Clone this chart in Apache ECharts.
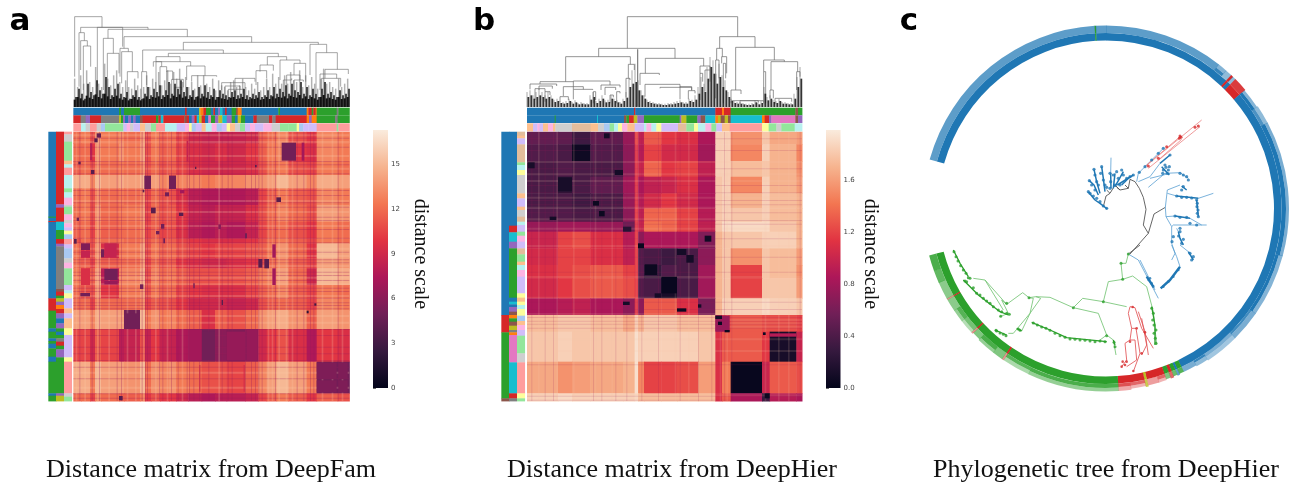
<!DOCTYPE html>
<html><head><meta charset="utf-8">
<style>html,body{margin:0;padding:0;background:#fff}#chart{width:1296px;height:485px;filter:blur(0.6px)}</style>
<script src="https://cdn.jsdelivr.net/npm/echarts@6/dist/echarts.min.js"></script>
</head><body><div id="chart"></div>
<script>
// ---------- colour tables ----------
const rocketStops=[[0,'#03051a'],[.143,'#35193e'],[.286,'#701f57'],[.429,'#ad1759'],[.571,'#e13342'],[.714,'#f37651'],[.857,'#f6b48f'],[1,'#faebdd']];
const K={b:'#1f77b4',r:'#d62728',g:'#2ca02c',o:'#ff7f0e',p:'#9467bd',n:'#8c564b',k:'#e377c2',y:'#7f7f7f',l:'#bcbd22',c:'#17becf',
 Lb:'#a9c9f2',Lo:'#fdc08e',Lg:'#93e69b',Lr:'#ff9d9d',Lp:'#d1bdfa',Ln:'#e3bd9c',Lk:'#fdb4e2',Ly:'#cfcfcf',Ll:'#fdfd9c',Lc:'#b8f1ef'};

// ---------- panel a : distance matrix DeepFam ----------
const aMax=17.3, aTicks=[0,3,6,9,12,15];
const aColEdges=[85,108,135,150,168,222,237,285,300,318,345,372,393,430,470,510,545,600,640,665,695,730,785,815,878,913];
const aRowEdges=[80,115,170,210,250,300,350,400,415,460,490,540,580,615,672,770,865,888];
const aValues=[
[12,12.5,11,13.5,12.5,13,12,13.5,11,12.5,11.5,12,10.5,9,8.5,8.5,8.5,9,11.5,12,13,11,10,13,12.5],
[12,12,10,13.5,12.5,13.5,12.5,14,11,12.5,11.5,12,10.5,9.5,9,9.5,9,10,11.5,12.5,13,10,9.5,13,12.5],
[11.5,12,11,13,12,12.5,12,13,11,12,11,11.5,10.5,9.5,9,9,9,9.5,11,12,12.5,11,10.5,12.5,12],
[14.5,14.5,13,15,14,14.5,14,15,11.5,14,13,11,13,13,12.5,13,13,13.5,13.5,14,15,14,13,14.5,14],
[12,12.5,11,13,12,12.5,12,13,10.5,12,11,11,9.5,8,7.5,7.5,7.5,8,10.5,11.5,12.5,11.5,11,13,12.5],
[12,12.5,11,13.5,12,12.5,12.5,13.5,10.5,12,11,11.5,10,8.5,8,8.5,8.5,9.5,11,12,13,12,11,14,13.5],
[11.5,12,10.5,13,11.5,12,12,13,10.5,11.5,10.5,11,9.5,8,7.5,8,7.5,8.5,10.5,11.5,12,11,10,12.5,12],
[11,12,11,13,12,12.5,12,13,11,12,11,11.5,10.5,10,9.5,9.5,9.5,10,11,12,12.5,11.5,10.5,12.5,12],
[12,10,11,13.5,9.5,12.5,12.5,14,11,12.5,11.5,12,11,10.5,10,10.5,10.5,11,11.5,12.5,13.5,12,10,15,14],
[12,11.5,10.5,13,11.5,12,12,13.5,10.5,12,11,11.5,10,9.5,9,9,9.5,10,11,12,13,11.5,10.5,14,13.5],
[12.5,10,11.5,14,8,13,13,14.5,11,13,12,12.5,11.5,11,11,11,11,11.5,12.5,13,14,12,9,15,14.5],
[12,11,11,13.5,10,12.5,12.5,13.5,11,12.5,11.5,12,10.5,10,9.5,9.5,9.5,10.5,11.5,12,13,11.5,10.5,12.5,12],
[12,12,10.5,13,12,12,12,13,10.5,11.5,11,11,10,9,9,9,8.5,9,11,11.5,12,11.5,10.5,13,12.5],
[14,14,13,14.5,14,14,5,15,12.5,13.5,12.5,13,12,11.5,9.5,11.5,11,12,13.5,14,14.5,13.5,11.5,14,13.5],
[10.5,10.5,9,11.5,10.5,8,8.5,11,8.5,10,8.5,8.5,7.5,6.5,5,6,5.5,6,9,10,11,9.5,7.5,10,9.5],
[14.5,14.5,12.5,15,14,14,13.5,15,12,13.5,13,13.5,12.5,12,11,11,10.5,11.5,13,14,15,14,12.5,5,5],
[12,12,10.5,13,12,11.5,11.5,12.5,10,11,10,10,9,8,7.5,8,8,8.5,10.5,11.5,12.5,11.5,10,11.5,11]];
const aClusters=[[155,168,85,98,4.5],[148,158,100,112,4],[710,753,113,167,5],[770,778,113,167,7],[100,107,170,178,4],[138,148,195,207,4],
[298,318,212,252,5],[372,393,212,252,5],[293,298,254,262,4],[360,372,262,274,5],[405,418,255,265,7],[694,708,277,291,4],[318,332,308,325,4],[402,415,323,333,4],
[348,358,357,371,5],[95,102,338,348,5],[333,343,378,388,5],[87,95,402,416,4],[108,135,415,435,5.5],[108,135,437,458,8.5],[168,178,433,457,5],[178,215,415,458,8.5],
[640,652,462,488,4],[658,672,462,490,4],[682,692,418,458,7],[682,692,490,540,7],[178,218,492,525,5],[178,218,528,538,6.5],[108,135,490,540,9.5],[106,135,564,574,5],[285,295,538,552,5],
[237,285,625,672,5],[785,791,617,625,2],[808,814,595,602,3],[815,875,772,822,5.5],[815,875,826,863,5.5],[880,908,772,822,5.5],[880,908,826,863,5.5],[222,233,873,886,4],
[470,510,680,765,5],[430,470,675,765,7],[545,600,680,765,6.5],[605,638,675,765,6.5],[463,466,780,860,9],[596,599,780,860,9],[136,140,115,165,7],
[600,606,385,400,5],[520,528,358,372,6],[355,360,400,415,5],[445,449,535,550,5],[425,430,108,170,8.5],[530,534,585,600,4],[450,454,185,192,4],[630,635,180,187,4]];
const aRowDark=[98,125,168,178,205,255,270,292,305,335,345,372,398,412,440,463,472,500,510,525,548,558,578,592,600,610,672,690,725,745,765,785,820,865,878];
const aRowLight=[88,108,150,188,285,318,360,428,450,480,515,535,570,630,650,800,845];
const aColDark=[103,140,162,215,228,290,300,306,342,352,378,398,425,432,445,462,490,530,548,560,600,618,630,640,650,690,755,775,795,805,878];
const aColLight=[92,118,156,190,245,270,294,330,365,410,520,668,680,700,722,740,830,860,890];
const aTop=[
[[222,'b'],[228,'g'],[237,'b'],[285,'g'],[420,'b'],[425,'r'],[462,'b'],[466,'l'],[475,'o'],[483,'r'],[497,'g'],[505,'b'],[510,'r'],[520,'b'],[525,'p'],[532,'c'],[540,'b'],[545,'r'],[560,'b'],[573,'g'],[578,'n'],[590,'o'],[700,'b'],[705,'g'],[785,'b'],[790,'o'],[800,'r'],[805,'g'],[812,'r'],[815,'o'],[875,'g'],[880,'y'],[913,'g']],
[[107,'r'],[122,'y'],[135,'p'],[168,'r'],[222,'y'],[228,'l'],[234,'g'],[240,'p'],[250,'b'],[258,'p'],[265,'b'],[272,'p'],[285,'b'],[293,'n'],[333,'r'],[340,'g'],[347,'r'],[355,'c'],[418,'r'],[425,'n'],[432,'r'],[440,'b'],[448,'p'],[455,'r'],[462,'c'],[470,'l'],[480,'r'],[490,'b'],[498,'k'],[510,'g'],[520,'p'],[532,'l'],[545,'c'],[560,'p'],[570,'g'],[578,'b'],[588,'l'],[600,'g'],[625,'b'],[635,'r'],[672,'y'],[682,'r'],[692,'y'],[785,'r'],[792,'o'],[800,'p'],[815,'o'],[870,'g'],[878,'y'],[913,'g']],
[[108,'Lr'],[122,'Lc'],[135,'Ly'],[155,'Lr'],[168,'Ly'],[180,'Lb'],[235,'Lg'],[245,'Lp'],[255,'Lk'],[265,'Ly'],[285,'Lp'],[300,'Lo'],[318,'Ly'],[333,'Lg'],[360,'Lr'],[395,'Lc'],[420,'Lp'],[432,'Lk'],[440,'Ll'],[452,'Lb'],[470,'Lp'],[482,'Lo'],[500,'Lc'],[515,'Lk'],[530,'Lb'],[545,'Lp'],[555,'Ll'],[570,'Lo'],[585,'Ly'],[600,'Lg'],[615,'Lp'],[630,'Lk'],[655,'Lp'],[680,'Lk'],[705,'Ly'],[730,'Lg'],[755,'Lg'],[762,'Ll'],[775,'Lb'],[790,'Lp'],[815,'Lp'],[875,'Lr'],[880,'Lg'],[913,'Lr']]];
const aLeft=[
[[335,'b'],[338,'g'],[348,'b'],[351,'r'],[580,'b'],[617,'r'],[670,'g'],[680,'b'],[700,'g'],[708,'b'],[716,'g'],[730,'b'],[755,'g'],[770,'b'],[865,'g'],[872,'b'],[888,'g']],
[[298,'r'],[308,'p'],[350,'r'],[375,'c'],[402,'g'],[416,'r'],[424,'p'],[552,'y'],[560,'n'],[572,'r'],[580,'g'],[590,'l'],[600,'p'],[612,'o'],[625,'r'],[640,'p'],[655,'b'],[670,'p'],[680,'g'],[690,'b'],[700,'g'],[710,'y'],[722,'r'],[733,'g'],[757,'p'],[770,'g'],[865,'g'],[872,'p'],[888,'l']],
[[88,'Lr'],[110,'Ly'],[167,'Lg'],[178,'Lo'],[188,'Lc'],[210,'Lr'],[250,'Lc'],[262,'Lg'],[278,'Lc'],[300,'Lk'],[305,'Ly'],[328,'Lg'],[345,'Lk'],[355,'Ly'],[367,'Lk'],[377,'Lp'],[388,'Ll'],[402,'Lb'],[418,'Lr'],[430,'Lp'],[460,'Lb'],[473,'Ly'],[490,'Lk'],[540,'Lg'],[556,'Lp'],[565,'Lc'],[580,'Ll'],[610,'Lp'],[625,'Lo'],[640,'Lp'],[670,'Lo'],[690,'Ll'],[757,'Lp'],[770,'Ll'],[865,'Lr'],[875,'Ly'],[888,'Lg']]];
const aLinks=[[14,96,20,200,52],[32,234,52,68,58],[27,43,68,230,92],[32,52,92,180,108],[40,62,108,240,170],[82,158,52,230,110],[100,130,85,240,130],[112,147,130,260,190],[114,352,58,85,80],[162,545,80,115,97],[150,175,115,200,125],[155,187,125,220,185],[172,204,185,260,205],[340,745,97,120,103],[218,460,120,185,130],[295,625,130,140,140],[258,330,140,155,155],[250,362,155,170,168],[350,405,168,210,197],[365,440,197,215,200],[455,525,218,240,235],[592,650,140,165,150],[570,610,165,185,182],[558,590,182,225,205],[630,690,150,210,160],[672,707,160,195,215],[720,770,103,195,128],[738,802,128,250,178],[765,835,178,205,192],[750,800,192,240,205],[755,812,205,250,230],[258,275,155,270,170],[270,290,170,250,185],[290,308,183,250,210],[305,340,208,260,232],[315,335,232,280,240],[495,555,205,240,215],[465,510,228,270,240],[475,520,238,275,250],[640,665,210,260,205],[650,690,195,260,210],[672,700,210,260,215],[215,230,185,265,225]];
const aCanopyGrey=[85,60,95,70,110,75,60,120,70,60,130,85,65,95,110,75,60,80,60,55,85,65,55,60,95,60,85,75,105,65,80,110,70,105,85,115,75,90,60,75,55,95,65,95,70,60,85,50,80,65,60,50,75,80,60,65,85,60,50,70,55,75,50,60,85,60,100,70,90,70,95,70,105,80,75,110,60,95,65,90,70,55,85,115,70,75,60,55,85,60,70,85];
const aCanopyDark=[30,55,40,25,70,45,35,80,50,40,90,60,35,55,70,40,30,45,25,35,50,30,25,40,60,35,55,45,65,35,50,75,40,70,55,80,45,60,35,50,30,60,40,65,45,35,55,30,50,40,35,30,45,50,35,40,55,35,30,40,35,45,30,35,50,35,60,40,55,45,65,40,70,50,45,75,40,60,35,55,40,30,55,75,40,45,35,30,50,35,40,55];
const aCanopyBase=[22,30,26,20,34,28,24,38,30,26,40,32,24,30,34,26,22,28,20,24,30,22,20,26,32,24,30,28,32,24,30,36,26,34,30,38,28,32,24,30,22,32,26,32,28,24,30,22,30,26,24,22,28,30,24,26,30,24,22,26,24,28,22,24,30,24,32,26,30,28,32,26,34,30,28,36,26,32,24,30,26,22,30,36,26,28,24,22,30,24,26,30];

// ---------- panel b : distance matrix DeepHier ----------
const bMax=1.99, bTicks=[0,0.4,0.8,1.2,1.6];
const bColEdges=[87,180,222,277,375,410,420,438,490,537,600,652,672,698,792,815,895,912];
const bRowEdges=[80,118,168,215,265,310,350,380,430,480,520,580,630,680,770,865,888];
const bValues=[
[.5,.48,.33,.48,.75,1.2,.95,1.3,1.15,1.1,.85,1.85,1.85,1.55,1.8,1.65,1.6],
[.42,.38,.07,.42,.7,1.1,.9,1.2,1.05,1.05,.8,1.85,1.85,1.5,1.85,1.7,1.5],
[.38,.42,.38,.38,.7,1.1,1.0,1.35,1.15,1.2,.95,1.85,1.85,1.75,1.8,1.7,1.55],
[.38,.2,.38,.48,.8,1.1,.85,.95,1.0,1.1,.85,1.8,1.85,1.5,1.85,1.7,1.6],
[.38,.38,.33,.38,.75,1.1,.9,1.05,1.15,1.05,.85,1.8,1.85,1.7,1.85,1.75,1.7],
[.42,.42,.38,.38,.7,1.15,.95,1.35,1.35,1.2,.9,1.8,1.85,1.8,1.85,1.75,1.7],
[.75,.8,.8,.75,.55,1.1,1.0,1.4,1.35,1.2,.95,1.8,1.9,1.9,1.9,1.8,1.7],
[1.0,1.2,1.25,1.1,.9,1.15,.7,.85,.85,.85,.65,1.7,1.8,1.8,1.85,1.85,1.7],
[1.05,1.2,1.2,1.1,.95,1.15,.42,.38,.32,.38,.7,1.7,1.8,1.55,1.8,1.75,1.6],
[1.1,1.2,1.25,1.3,1.2,1.15,.45,.28,.42,.38,.8,1.7,1.8,1.2,1.8,1.75,1.55],
[1.05,1.15,1.25,1.3,1.25,1.15,.42,.38,.12,.38,.8,1.7,1.8,1.2,1.8,1.8,1.6],
[.85,.9,.95,.85,.7,1.1,.7,1.3,1.3,1.1,.6,1.7,1.85,1.85,1.9,1.85,1.8],
[1.75,1.8,1.8,1.75,1.65,1.85,1.7,1.8,1.8,1.75,1.75,.95,1.2,1.3,1.25,1.25,1.2],
[1.8,1.85,1.8,1.8,1.8,1.95,1.85,1.85,1.85,1.85,1.8,1.1,1.3,1.3,1.15,.12,1.0],
[1.65,1.55,1.6,1.65,1.7,1.95,1.5,1.2,1.2,1.25,1.6,1.1,1.45,.03,1.0,1.3,1.25],
[1.85,1.9,1.85,1.85,1.85,1.9,1.75,1.75,1.75,1.75,1.75,1.1,1.3,.85,.3,.9,.85]];
const bClusters=[[318,335,85,100,.1],[90,110,172,190,.12],[180,222,218,258,.12],[350,375,195,210,.1],[285,303,288,302,.05],[303,320,318,334,.05],[155,175,335,345,.1],[375,400,365,380,.2],[620,640,392,410,.08],[420,438,415,430,.03],[537,565,432,450,.1],[565,587,450,473,.1],[440,477,478,510,.05],[490,537,515,565,.03],[470,490,565,578,.1],[375,395,590,600,.1],[537,565,610,620,.05],[600,610,598,608,.1],[652,695,632,680,.75],[660,672,650,660,.05],[680,695,675,682,.05],[795,803,682,690,.05],[800,815,865,880,.05],[815,895,685,695,.9],[652,672,632,642,.1]];
const bRowDark=[100,135,190,240,262,285,298,322,345,356,400,455,500,590,612,636,647,656,668,778,872,884];
const bRowLight=[168,205,225,275,305,340,368,420,513,575,624,642,652,662,700,735,868];
const bColDark=[100,140,165,285,310,352,385,430,480,545,600,640,678,700,905];
const bColLight=[120,175,225,290,340,412,418,530,570,665,685,800,840,870];
const bTop=[
[[408,'b'],[412,'r'],[652,'b'],[672,'r'],[678,'o'],[698,'r'],[892,'g'],[900,'n'],[912,'g']],
[[170,'b'],[173,'g'],[297,'b'],[300,'c'],[378,'b'],[385,'n'],[393,'g'],[407,'r'],[418,'l'],[438,'p'],[545,'g'],[550,'p'],[565,'l'],[598,'g'],[608,'p'],[622,'n'],[652,'c'],[660,'o'],[668,'l'],[680,'n'],[690,'l'],[698,'n'],[792,'c'],[800,'o'],[813,'r'],[820,'p'],[892,'k'],[900,'n'],[912,'p']],
[[105,'Lo'],[118,'Lp'],[125,'Lk'],[135,'Lp'],[150,'Lo'],[165,'Lk'],[172,'Lo'],[222,'Ly'],[278,'Ln'],[300,'Lo'],[318,'Ly'],[335,'Lb'],[348,'Lg'],[360,'Lc'],[372,'Ll'],[388,'Lk'],[410,'Lo'],[438,'Lp'],[445,'Lc'],[460,'Lk'],[475,'Lc'],[490,'Ll'],[540,'Lp'],[565,'Ln'],[588,'Lg'],[600,'Ll'],[622,'Lc'],[640,'Lk'],[655,'Lg'],[672,'Lp'],[695,'Lo'],[792,'Lr'],[812,'Ll'],[835,'Lg'],[850,'Ly'],[890,'Lg'],[912,'Lc']]];
const bLeft=[
[[630,'b'],[682,'r'],[880,'g'],[888,'n']],
[[362,'b'],[382,'r'],[410,'c'],[430,'p'],[578,'g'],[590,'b'],[598,'c'],[606,'b'],[620,'p'],[630,'n'],[640,'o'],[650,'g'],[662,'n'],[675,'l'],[682,'y'],[690,'o'],[772,'k'],[865,'c'],[880,'r'],[888,'y']],
[[92,'Ln'],[100,'Lo'],[118,'Lp'],[172,'Ln'],[180,'Lg'],[195,'Lc'],[210,'Ll'],[265,'Ly'],[280,'Lo'],[305,'Lp'],[315,'Lo'],[335,'Ly'],[350,'Ln'],[360,'Lc'],[380,'Lp'],[392,'Lg'],[410,'Lk'],[430,'Lp'],[448,'Ln'],[470,'Lg'],[480,'Lo'],[495,'Lc'],[515,'Lk'],[565,'Lp'],[578,'Ll'],[590,'Lo'],[600,'Ll'],[612,'Lc'],[632,'Ll'],[648,'Lb'],[660,'Lo'],[675,'Lk'],[692,'Lp'],[745,'Lg'],[772,'Ly'],[865,'Lr'],[880,'Ll'],[888,'Lg']]];
const bLinks=[[307,638,20,115,80],[221,450,115,140,145],[122,316,140,215,163],[361,536,145,190,168],[584,690,80,115,112],[632,748,112,240,150],[716,778,150,185,155],[738,818,155,240,185],[310,328,163,205,180],[303,315,205,262,210],[525,555,168,190,180],[525,533,190,270,215],[540,555,180,245,215],[345,403,190,225,195],[360,465,223,260,232],[405,500,232,235,240],[465,500,230,268,242],[490,510,242,268,250],[575,592,115,150,140],[572,582,150,265,205],[590,605,140,160,190],[595,602,160,280,205],[618,648,240,270,252],[618,715,272,280,275],[645,700,272,282,278],[815,825,185,240,200],[735,745,240,265,265],[750,800,265,282,275],[716,722,185,280,280],[45,145,215,222,215],[15,95,222,238,228],[42,82,228,240,236],[30,60,236,270,245],[60,75,245,275,255],[145,255,213,238,225],[115,175,230,258,238],[145,203,238,268,240],[228,285,225,240,232],[240,272,232,255,240],[255,265,255,280,262],[105,130,260,275,270],[205,212,245,280,270],[275,285,245,280,250],[338,338,118,290,290]];
const bCanopyDark=[30,35,25,30,35,30,25,30,25,15,18,12,10,12,18,10,14,8,10,8,8,22,30,12,18,25,14,15,25,18,14,10,18,28,60,70,75,50,35,25,15,12,10,8,8,6,6,8,8,10,12,14,10,10,18,15,22,40,60,45,85,120,100,70,90,60,50,30,18,12,10,10,8,6,6,8,14,8,12,40,20,25,15,12,18,10,10,8,8,25,60,85];
const bCanopyGrey=[45,50,35,45,55,45,35,45,35,22,25,18,15,18,25,15,20,12,15,12,12,35,45,18,25,35,20,22,35,25,20,15,25,45,85,110,130,80,50,35,22,18,15,12,12,10,10,12,12,15,18,20,15,15,25,22,35,60,90,70,120,150,140,100,130,95,80,45,25,18,15,15,12,10,10,12,20,12,18,60,30,35,22,18,25,15,15,12,12,40,90,120];
const canopyStep=9;

// ---------- panel c : phylogenetic tree (ring bearings in degrees clockwise from north) ----------
const ringInner=[[285.5,356.4,'b'],[356.4,356.8,'g'],[356.8,360,'b'],[0,43.2,'b'],[43.2,43.9,'r'],[43.9,45,'b'],[45,49.5,'r'],[49.5,154.5,'b'],[154.5,156,'g'],[156,156.7,'b'],[156.7,158,'g'],[158,159,'r'],[159,160.5,'g'],[160.5,166.5,'r'],[166.5,167.3,'l'],[167.3,176,'r'],[176,214,'g'],[214,214.6,'r'],[214.6,226.8,'g'],[226.8,227.3,'r'],[227.3,240,'g'],[240,240.4,'r'],[240.4,255,'g']];
const ringOuter=[[285.5,356.4,'b',.72,175.5,183],[356.4,356.8,'g',1,175.5,183],[356.8,360,'b',.72,175.5,183],[0,38,'b',.72,175.5,183],[38,41,'b',.9,175.5,179],[38,41,'b',.55,179,183],[41,43.2,'b',.5,175.5,183],[43.2,43.9,'r',1,175.5,183],[43.9,45,'b',.5,175.5,183],[45,49.5,'r',.9,175.5,183],
[49.5,56,'b',1,175.5,179],[49.5,56,'b',.55,179,182],[56,62,'b',.8,175.5,179],[56,62,'b',.5,179,183],[62,105,'b',1,175.5,180],[62,105,'b',.6,180,183],[105,125,'b',1,175.5,179],[105,125,'b',.55,179,183],[125,135,'b',.85,175.5,178],[125,135,'b',.6,178,183],[135,146,'b',.6,175.5,179],[135,146,'b',.42,179,183],[146,150,'b',.9,175.5,178],[146,150,'b',.5,178,182],[150,154.5,'b',.6,175.5,181],
[154.5,156,'g',.8,175.5,181],[156,156.7,'b',.7,175.5,182],[156.7,158,'g',.7,175.5,181],[158,159,'r',.7,175.5,182],[159,160.5,'g',.6,175.5,181],[160.5,163,'r',.7,175.5,179],[160.5,163,'r',.35,179,182],[163,166.5,'r',.45,175.5,182],[166.5,167.3,'l',.8,175.5,183],[167.3,172,'r',.7,175.5,179],[167.3,172,'r',.35,179,182],[172,176,'r',.8,175.5,179],[172,176,'r',.4,179,183],
[176,205,'g',.85,175.5,179.5],[176,205,'g',.5,179.5,183],[205,214,'g',.8,175.5,179],[205,214,'g',.4,179,183],[214,214.6,'r',.5,175.5,183],[214.6,218,'g',.6,175.5,183],[218,224,'g',.85,175.5,180],[218,224,'g',.5,180,183],[224,226.8,'g',.6,175.5,182],[226.8,227.3,'r',.5,175.5,183],[227.3,232,'g',.65,175.5,180],[227.3,232,'g',.35,180,183],[232,236,'g',.8,175.5,180],[232,236,'g',.5,180,183],[236,240,'g',.55,175.5,183],[240,240.4,'r',.5,175.5,183],[240.4,246,'g',.55,175.5,183],[246,250,'g',.75,175.5,183],[250,255,'g',.85,175.5,183]];
const ringRadii=[168,175.5];

// upper tree, read in units of a 450x450 frame
const uBlack=[[[150,432],[205,370],[190,345],[198,298],[190,262],[178,235],[165,215],[150,208],[145,235],[120,240],[105,225],[90,250],[78,258],[70,290]],[[205,370],[222,312],[256,292]],[[120,240],[110,232]],[[145,235],[135,225]],[[90,250],[80,240]]];
const uBlueThick=[[[45,270],[25,245]],[[45,270],[60,280],[82,297]],[[55,255],[42,225],[28,212]],[[60,250],[50,215],[42,178]],[[75,245],[70,205],[65,170]],[[93,235],[92,190]],[[100,235],[105,190]],[[105,230],[130,185]],[[112,225],[160,195]],[[125,225],[150,200]],[[240,160],[270,135]],[[245,170],[268,195]],[[350,270],[355,320]],[[305,228],[320,240]],[[290,258],[355,265]],[[285,318],[330,325]],[[295,365],[300,385],[310,405]],[[325,425],[340,450]]];
const uBlueThin=[[[92,190],[93,143]],[[170,215],[175,190],[250,115]],[[175,215],[210,200],[240,160]],[[205,232],[255,190],[300,188],[325,205]],[[210,205],[270,190]],[[256,292],[262,240],[300,225]],[[262,250],[290,258]],[[355,265],[400,250]],[[256,292],[258,320],[285,318]],[[330,325],[365,345]],[[258,320],[275,350],[280,345],[380,345]],[[275,350],[275,400],[285,430],[275,450]],[[290,355],[295,365]],[[300,405],[325,425]]];
const uRedThin=[[[195,170],[365,30]],[[205,175],[360,50]],[[235,150],[305,88]],[[200,165],[300,80]]];
const uRedDots=[[300,78],[355,48],[345,52],[260,110],[235,145],[205,168],[298,85],[303,82]];
const uBlueDots=[[25,245],[30,250],[40,258],[50,265],[60,275],[70,288],[80,295],[28,212],[35,225],[45,240],[42,178],[45,195],[50,215],[55,225],[65,170],[62,190],[70,210],[75,225],[80,232],[90,190],[92,215],[90,235],[100,195],[110,185],[115,205],[105,225],[120,225],[130,195],[140,205],[150,200],[160,195],[125,180],[250,115],[235,130],[215,150],[195,170],[178,187],[255,165],[265,180],[250,180],[262,190],[270,135],[258,172],[248,190],[268,170],[310,230],[305,240],[320,200],[300,190],[310,195],[325,210],[290,258],[305,262],[320,262],[335,264],[350,270],[352,280],[351,290],[354,300],[352,310],[355,320],[285,318],[300,322],[320,322],[330,340],[350,345],[300,365],[296,378],[305,400],[310,388],[340,440],[330,430],[335,450],[280,380],[276,395],[300,355]];

// lower tree, read in units of a 690x420 frame
const lBlack=[[[570,0],[535,27]]];
const lGreenThin=[[[535,27],[528,55],[513,55],[518,103],[475,110],[460,170],[398,160],[370,188],[300,157],[258,155],[237,158],[218,143],[170,178],[105,105],[70,100]],[[460,170],[530,185]],[[518,103],[548,93],[590,125],[610,200],[620,300]],[[370,188],[445,205],[470,270],[490,285],[498,330]],[[258,155],[272,160],[240,205],[190,265],[175,265]],[[237,158],[250,160],[240,205],[215,258]],[[170,178],[155,165],[175,205],[150,215]],[[105,105],[160,195]],[[470,270],[450,285]]];
const lGreenThick=[[[245,232],[300,255],[350,278],[470,290]],[[10,15],[30,55],[55,95]],[[40,105],[85,150],[150,200],[175,210]],[[135,255],[170,270]],[[200,250],[215,258]],[[605,185],[615,240],[615,300]],[[490,285],[495,300]]];
const lRedThin=[[[540,185],[535,205],[545,250],[540,285],[525,295],[530,345],[515,365]],[[540,185],[555,188],[575,250],[610,310]],[[565,200],[585,260],[595,330]],[[545,250],[558,250],[570,325],[550,380]],[[540,285],[555,285],[560,345],[530,365]],[[575,220],[590,300],[575,330]]];
const lBlueThin=[[[535,27],[565,45],[625,160]],[[570,45],[615,135]],[[665,0],[680,35],[690,65]]];
const lBlueThick=[[[632,130],[660,105],[690,65]],[[590,95],[610,125]]];
const lRedDots=[[548,186],[518,350],[530,350],[550,378],[575,325],[585,262],[540,290],[560,250],[525,360],[515,365]];
const lGreenDots=[[513,55],[535,27],[518,103],[460,170],[370,188],[237,158],[170,175],[60,100],[50,110],[90,150],[120,175],[145,195],[170,205],[140,258],[160,268],[205,252],[470,272],[610,205],[612,240],[616,280],
[12,20],[18,35],[24,48],[32,62],[40,75],[48,85],[55,98],[45,108],[70,128],[80,145],[100,160],[110,168],[130,185],[155,200],[178,208],[152,214],[250,234],[262,240],[275,246],[288,250],[300,256],[315,265],[330,272],[345,277],[360,282],[375,283],[390,285],[405,286],[420,288],[435,290],[450,288],[465,290],[138,256],[150,264],[168,272],[210,256],[492,292],[495,305],[605,190],[608,225],[618,255],[612,265],[618,295]];
const lBlueDots=[[600,100],[605,115],[610,125],[640,125],[655,110],[670,95],[685,75],[596,105]];

// ---------- text ----------
const panelLetters=['a','b','c'];
const panelTitles=['Distance matrix from DeepFam','Distance matrix from DeepHier','Phylogenetic tree from DeepHier'];
const scaleLabel='distance scale';

// ---------- helpers ----------
function hex(c){return [1,3,5].map(i=>parseInt(c.substr(i,2),16));}
function rocket(t){t=Math.max(0,Math.min(1,t));
 for(let i=1;i<rocketStops.length;i++){if(t<=rocketStops[i][0]){
  const a=rocketStops[i-1],b=rocketStops[i],f=(t-a[0])/(b[0]-a[0]),A=hex(a[1]),B=hex(b[1]);
  return 'rgb('+A.map((v,j)=>Math.round(v+(B[j]-v)*f)).join(',')+')';}}
 return rocketStops[rocketStops.length-1][1];}
const valueAxis=(gridIndex,min,max,inverse)=>({type:'value',gridIndex,min,max,inverse:!!inverse,show:false});
function rectSeries(rects,idx){return {type:'custom',xAxisIndex:idx,yAxisIndex:idx,silent:true,animation:false,clip:true,
 data:rects.map(r=>[r.x0,r.x1,r.y0,r.y1]),encode:{x:[0,1],y:[2,3]},
 renderItem(p,api){const r=rects[p.dataIndex],a=api.coord([api.value(0),api.value(2)]),b=api.coord([api.value(1),api.value(3)]);
  const g=r.grow||0;
  return {type:'rect',shape:{x:a[0],y:a[1],width:b[0]-a[0]+g,height:b[1]-a[1]+g},style:{fill:r.c,opacity:r.o==null?1:r.o}};}};}
function matrixRects(colE,rowE,vals,clusters,rD,rL,cD,cL,max,dk,lt){
 const out=[];
 vals.forEach((row,i)=>row.forEach((v,j)=>out.push({x0:colE[j],x1:colE[j+1],y0:rowE[i],y1:rowE[i+1],c:rocket(v/max),grow:.5})));
 const xa=colE[0],xb=colE[colE.length-1],ya=rowE[0],yb=rowE[rowE.length-1];
 rD.forEach(y=>out.push({x0:xa,x1:xb,y0:y,y1:y+3,c:'#9a1a58',o:dk}));
 rL.forEach(y=>out.push({x0:xa,x1:xb,y0:y,y1:y+6,c:'#fbc8a8',o:lt}));
 cD.forEach(x=>out.push({x0:x,x1:x+3,y0:ya,y1:yb,c:'#9a1a58',o:dk}));
 cL.forEach(x=>out.push({x0:x,x1:x+5,y0:ya,y1:yb,c:'#fbc8a8',o:lt}));
 clusters.forEach(c=>out.push({x0:c[0],x1:c[1],y0:c[2],y1:c[3],c:rocket(c[4]/max)}));
 return out;}
function barRects(rows,horizontal,first,bands){const out=[];
 rows.forEach((segs,i)=>{let s=first;segs.forEach(seg=>{const [a,b]=bands[i];
  out.push(horizontal?{x0:s,x1:seg[0],y0:a,y1:b,c:K[seg[1]],grow:.4}:{x0:a,x1:b,y0:s,y1:seg[0],c:K[seg[1]],grow:.4});s=seg[0];});});
 return out;}
function linkSeries(links,idx,op){return {type:'custom',xAxisIndex:idx,yAxisIndex:idx,silent:true,animation:false,data:links,encode:{x:[0,1],y:[2,3,4]},
 renderItem(p,api){const c=(x,y)=>api.coord([x,y]),xL=api.value(0),xR=api.value(1),yT=api.value(2),yA=api.value(3),yB=api.value(4);
  return {type:'polyline',shape:{points:[c(xL,yA),c(xL,yT),c(xR,yT),c(xR,yB)]},style:{fill:null,stroke:'#6a6a6a',lineWidth:1,opacity:op}};}};}
function canopySeries(heights,start,idx,color,width,opacity){
 return {type:'custom',xAxisIndex:idx,yAxisIndex:idx,silent:true,animation:false,data:heights.map((h,i)=>[start+i*canopyStep,h]),
 renderItem(p,api){const a=api.coord([api.value(0),291]),b=api.coord([api.value(0),291-api.value(1)]);
  return {type:'line',shape:{x1:a[0],y1:a[1],x2:b[0],y2:b[1]},style:{stroke:color,lineWidth:width,opacity}};}};}
function polySeries(lines,idx,color,width,opacity){
 return {type:'custom',xAxisIndex:idx,yAxisIndex:idx,silent:true,animation:false,data:lines.map((l,i)=>[l[0][0],l[0][1],i]),
 renderItem(p,api){return {type:'polyline',shape:{points:lines[p.dataIndex].map(q=>api.coord(q))},style:{fill:null,stroke:color,lineWidth:width,opacity,lineJoin:'round'}};}};}
function dotSeries(pts,idx,color,size){return {type:'scatter',xAxisIndex:idx,yAxisIndex:idx,silent:true,animation:false,symbolSize:size,itemStyle:{color},data:pts};}
function ringSeries(){
 const segs=[];
 ringInner.forEach(s=>segs.push([s[0],s[1],ringRadii[0],ringRadii[1],K[s[2]],1]));
 ringOuter.forEach(s=>segs.push([s[0],s[1],s[4],s[5],K[s[2]],s[3]]));
 return {type:'custom',coordinateSystem:'polar',silent:true,animation:false,data:segs.map(s=>[s[2],s[0],s[3],s[1]]),
 renderItem(p,api){const sg=segs[p.dataIndex],cs=p.coordSys,
   a=api.coord([api.value(2),api.value(1)]),b=api.coord([api.value(2),api.value(3)]),i=api.coord([api.value(0),api.value(1)]),
   ang=q=>Math.atan2(q[1]-cs.cy,q[0]-cs.cx),len=q=>Math.hypot(q[1]-cs.cy,q[0]-cs.cx);
  return {type:'sector',shape:{cx:cs.cx,cy:cs.cy,r:len(a),r0:len(i),startAngle:ang(a),endAngle:ang(b)+.002,clockwise:true},style:{fill:sg[4],opacity:sg[5]}};}};}
function colorbarSeries(max,idx){return {type:'custom',xAxisIndex:idx,yAxisIndex:idx,silent:true,animation:false,data:[[0,1,0,max]],encode:{x:[0,1],y:[2,3]},
 renderItem(p,api){const a=api.coord([api.value(0),api.value(3)]),b=api.coord([api.value(1),api.value(2)]);
  return {type:'rect',shape:{x:a[0],y:a[1],width:b[0]-a[0],height:b[1]-a[1]},
   style:{fill:new echarts.graphic.LinearGradient(0,1,0,0,rocketStops.map(s=>({offset:s[0],color:s[1]})))}};}};}
function cbAxis(gridIndex,max,ticks,fmt){return {type:'value',gridIndex,min:0,max,position:'right',splitLine:{show:false},axisLine:{show:false},
 axisTick:{show:true,length:3,lineStyle:{color:'#444',width:.8},customValues:ticks},
 axisLabel:{fontSize:7,color:'#444',margin:3,fontFamily:'DejaVu Sans',formatter:fmt,customValues:ticks}};}
const txt=(text,x,y,font,opt={})=>({type:'text',x,y,rotation:opt.rot||0,silent:true,style:{text,font,fill:opt.fill||'#111',align:opt.align||'center',verticalAlign:'middle'}});

const topBands=[[8,30],[31,53],[55,78]], leftBands=[[10,33],[33,56],[57,80]];
const option={animation:false,backgroundColor:'#fff',
 grid:[{left:45,top:105,width:310,height:300},{left:70,top:10,width:285,height:100},{left:373,top:130,width:15,height:258},
       {left:498,top:105,width:310,height:300},{left:525,top:10,width:285,height:100},{left:826,top:130,width:14.5,height:258},
       {left:1080,top:110,width:150,height:150},{left:950,top:245,width:230,height:140}],
 xAxis:[valueAxis(0,0,930),valueAxis(1,0,855),valueAxis(2,0,1),valueAxis(3,0,930),valueAxis(4,0,855),valueAxis(5,0,1),valueAxis(6,0,450),valueAxis(7,0,690)],
 yAxis:[valueAxis(0,0,900,true),valueAxis(1,0,300,true),cbAxis(2,aMax,aTicks,v=>String(v)),valueAxis(3,0,900,true),valueAxis(4,0,300,true),cbAxis(5,bMax,bTicks,v=>v.toFixed(1)),valueAxis(6,0,450,true),valueAxis(7,0,420,true)],
 polar:{center:[1106,208.5],radius:183},
 radiusAxis:{min:0,max:183,show:false},angleAxis:{min:0,max:360,startAngle:90,clockwise:true,show:false},
 series:[
  rectSeries(matrixRects(aColEdges,aRowEdges,aValues,aClusters,aRowDark,aRowLight,aColDark,aColLight,aMax,.3,.24),0),
  rectSeries(barRects(aTop,true,85,topBands),0),
  rectSeries(barRects(aLeft,false,80,leftBands),0),
  canopySeries(aCanopyGrey,14,1,'#666',1.5,.5),
  linkSeries(aLinks,1,.6),
  canopySeries(aCanopyDark,18,1,'#222',2,.8),
  canopySeries(aCanopyBase,14,1,'#000',2,.9),
  colorbarSeries(aMax,2),
  rectSeries(matrixRects(bColEdges,bRowEdges,bValues,bClusters,bRowDark,bRowLight,bColDark,bColLight,bMax,.16,.14),3),
  rectSeries(barRects(bTop,true,87,topBands),3),
  rectSeries(barRects(bLeft,false,80,leftBands),3),
  canopySeries(bCanopyGrey,6,4,'#777',1.4,.45),
  linkSeries(bLinks,4,.7),
  canopySeries(bCanopyDark,10,4,'#111',1.8,.85),
  colorbarSeries(bMax,5),
  ringSeries(),
  polySeries(uBlack,6,'#555',.9,1),
  polySeries(uBlueThin,6,'#5aa0d2',.9,.9),
  polySeries(uBlueThick,6,'#1f77b4',1.5,1),
  polySeries(uRedThin,6,'#ea7b7c',.9,.85),
  dotSeries(uBlueDots,6,'#1f77b4',3.2),
  dotSeries(uRedDots,6,'#d62728',3),
  polySeries(lBlack,7,'#555',.9,1),
  polySeries(lGreenThin,7,'#76c476',.9,.95),
  polySeries(lGreenThick,7,'#2ca02c',1.3,1),
  polySeries(lRedThin,7,'#e25557',.9,.95),
  polySeries(lBlueThin,7,'#5aa0d2',.9,.9),
  polySeries(lBlueThick,7,'#1f77b4',2.4,1),
  dotSeries(lGreenDots,7,'#2ca02c',3),
  dotSeries(lRedDots,7,'#d62728',2.6),
  dotSeries(lBlueDots,7,'#1f77b4',2.6)
 ],
 graphic:{elements:[
  txt(panelLetters[0],20,22,'bold 31px "DejaVu Sans"',{fill:'#000'}),
  txt(panelLetters[1],484,22,'bold 31px "DejaVu Sans"',{fill:'#000'}),
  txt(panelLetters[2],909,22,'bold 31px "DejaVu Sans"',{fill:'#000'}),
  txt(panelTitles[0],211,470,'26px "Liberation Serif"'),
  txt(panelTitles[1],672,470,'26px "Liberation Serif"'),
  txt(panelTitles[2],1106,470,'26px "Liberation Serif"'),
  txt(scaleLabel,420,254,'20px "Liberation Serif"',{rot:-Math.PI/2}),
  txt(scaleLabel,870,254,'20px "Liberation Serif"',{rot:-Math.PI/2})
 ]}
};
const chart=echarts.init(document.getElementById('chart'),null,{renderer:'canvas'});
chart.setOption(option);
</script></body></html>
